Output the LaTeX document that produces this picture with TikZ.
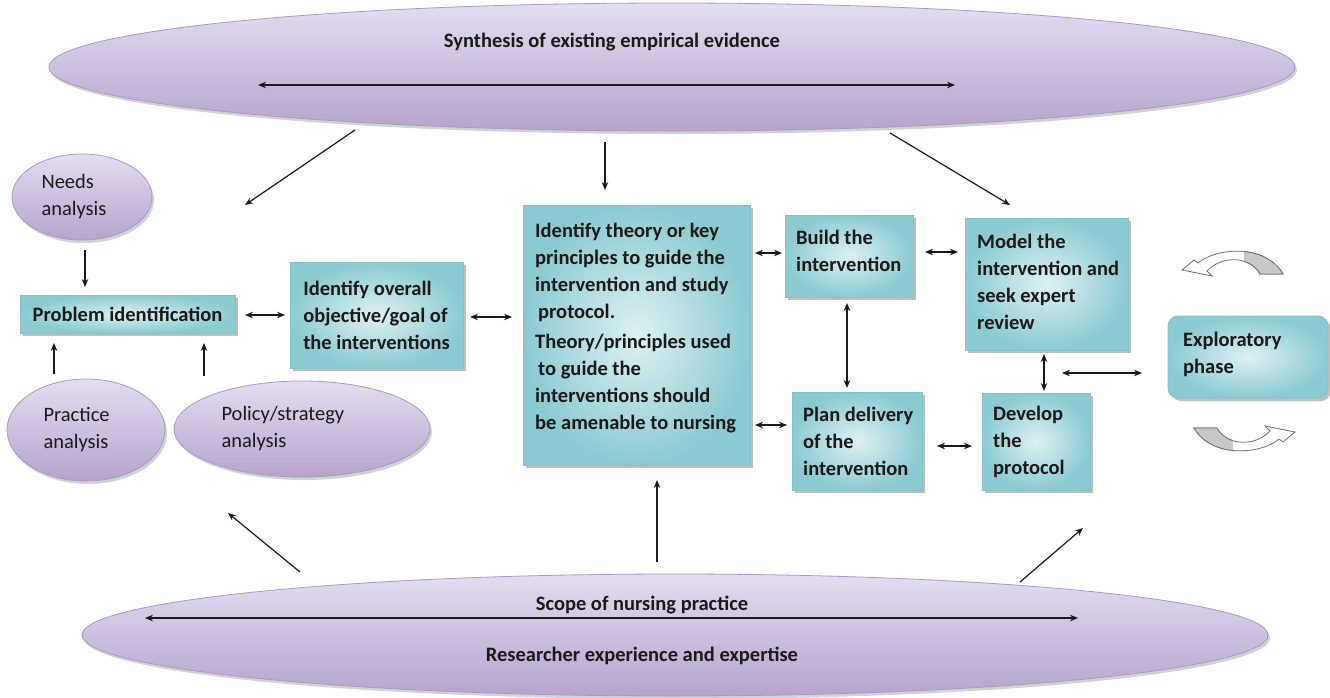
\documentclass[tikz,border=0pt]{standalone}
\usepackage{fontspec}
\setmainfont{Carlito}
\usetikzlibrary{arrows.meta,shapes.geometric,shadows,calc}

\definecolor{inkc}{HTML}{1A1A1A}
\definecolor{tealedge}{HTML}{84C2C9}
\definecolor{tealdark}{HTML}{8CCAD1}
\definecolor{teallight}{HTML}{DDF1F3}
\definecolor{lavedge}{HTML}{A898C4}
\definecolor{lavdark}{HTML}{B6A3CE}
\definecolor{lavlight}{HTML}{E4DDEF}
\definecolor{shadowc}{HTML}{9FA8AA}
\definecolor{bandgray}{HTML}{C8C8C8}
\definecolor{bandedge}{HTML}{707070}

\tikzset{
  boxtext/.style={font=\bfseries\fontsize{20.5}{27}\selectfont, text=inkc},
  tealbox/.style={boxtext, draw=tealedge, line width=0.8pt,
    inner color=teallight, outer color=tealdark,
    drop shadow={shadow xshift=3pt, shadow yshift=-3pt, fill=shadowc, opacity=0.7},
    align=left, inner sep=0pt},
  lavell/.style={ellipse, draw=lavedge, line width=0.8pt,
    top color=lavlight, bottom color=lavdark,
    drop shadow={shadow xshift=2pt, shadow yshift=-3pt, fill=shadowc, opacity=0.5},
    inner sep=0pt},
  elltext/.style={font=\fontsize{20.5}{27}\selectfont, text=inkc, align=left},
  bigtext/.style={font=\bfseries\fontsize{20.5}{25}\selectfont, text=inkc},
  arr/.style={-{Stealth[length=8pt,width=6.5pt]}, line width=1.2pt, inkc},
  darr/.style={{Stealth[length=8pt,width=6.5pt]}-{Stealth[length=8pt,width=6.5pt]}, line width=1.2pt, inkc},
  pics/bentarrow/.style={code={
    % white front of the curved band with its head
    \filldraw[fill=white, draw=bandedge, line width=0.8pt]
      (-34,-2) .. controls (-17,-17) and (33,-22) .. (51,9) -- (28,9)
      .. controls (18,-9) and (-10,-10) .. (-25,6)
      -- (-20,11) -- (-50,5) -- (-38,-5) -- cycle;
    % grey underside near the tail
    \begin{scope}
      \clip (12,-40) rectangle (60,20);
      \filldraw[fill=bandgray, draw=bandedge, line width=0.8pt]
        (-34,-2) .. controls (-17,-17) and (33,-22) .. (51,9) -- (28,9)
        .. controls (18,-9) and (-10,-10) .. (-25,6) -- cycle;
    \end{scope}
  }}
}

\begin{document}
\begin{tikzpicture}[x=1pt, y=-1pt]
\useasboundingbox (0,0) rectangle (1330,697);
\fill[white] (0,0) rectangle (1330,697);

% large ellipses: evidence at the top, practice and expertise at the bottom
\node[lavell, minimum width=1246, minimum height=128] (synth) at (672,67) {};
\node[bigtext] (synthtext) at (612,42) {Synthesis of existing empirical evidence};
\coordinate (synthL) at (258,85);
\coordinate (synthR) at (955,85);
\draw[darr] (synthL) -- (synthR);

\node[lavell, minimum width=1186, minimum height=122] (scope) at (675,635) {};
\node[bigtext] (scopetext) at (642,605) {Scope of nursing practice};
\node[bigtext] (researcher) at (642,656) {Researcher experience and expertise};
\coordinate (scopeL) at (145,618);
\coordinate (scopeR) at (1078,618);
\draw[darr] (scopeL) -- (scopeR);

% small analysis ellipses
\node[lavell, minimum width=140, minimum height=86] (needs) at (82,197) {};
\node[elltext, anchor=west] (needstext) at (38,197) {Needs\\analysis};
\node[lavell, minimum width=158, minimum height=102] (practice) at (86,430) {};
\node[elltext, anchor=west] (practicetext) at (40,430) {Practice\\analysis};
\node[lavell, minimum width=256, minimum height=96] (policy) at (302,429) {};
\node[elltext, anchor=west] (policytext) at (218,429) {Policy/strategy\\analysis};

% process boxes
\node[tealbox, minimum width=215, minimum height=38, align=center] (prob) at (127.5,314) {Problem identification};
\node[tealbox, minimum width=173, minimum height=106] (overall) at (376.5,315)
  {Identify overall\\objective/goal of\\the interventions};
\node[tealbox, minimum width=227, minimum height=260] (theory) at (636.5,335) {};
\node[boxtext, align=left, anchor=west, inner sep=0pt] (theorytext) at (535,328)
  {Identify theory or key\\principles to guide the\\intervention and study\\\hspace*{3pt}protocol.\\[3pt]
   Theory/principles used\\\hspace*{3pt}to guide the\\interventions should\\be amenable to nursing};
\node[tealbox, minimum width=128, minimum height=82] (build) at (849,256) {};
\node[boxtext, align=left, anchor=west, inner sep=0pt] (buildtext) at (796,251)
  {Build the\\intervention};
\node[tealbox, minimum width=130, minimum height=98] (plan) at (857,441) {};
\node[boxtext, align=left, anchor=west, inner sep=0pt] (plantext) at (803,441)
  {Plan delivery\\of the\\intervention};
\node[tealbox, minimum width=163, minimum height=132] (model) at (1046.5,284) {};
\node[boxtext, align=left, anchor=west, inner sep=0pt] (modeltext) at (977,282)
  {Model the\\intervention and\\seek expert\\review};
\node[tealbox, minimum width=108, minimum height=97] (develop) at (1036,441.5) {};
\node[boxtext, align=left, anchor=west, inner sep=0pt] (developtext) at (993,441.5)
  {Develop\\the\\protocol};
\node[tealbox, rounded corners=10pt, minimum width=160, minimum height=82] (explor) at (1248,357) {};
\node[boxtext, align=left, anchor=west, inner sep=0pt] (explortext) at (1183,354)
  {Exploratory\\phase};

% arrows leaving the evidence ellipse
\coordinate (t1s) at (355,130); \coordinate (t1e) at (245,205);
\coordinate (t2s) at (605,142); \coordinate (t2e) at (605,190);
\coordinate (t3s) at (890,133); \coordinate (t3e) at (1010,205);
\draw[arr] (t1s) -- (t1e);
\draw[arr] (t2s) -- (t2e);
\draw[arr] (t3s) -- (t3e);

% feeding problem identification
\coordinate (n1) at (85,250); \coordinate (n2) at (85,287);
\draw[arr] (n1) -- (n2);
\coordinate (p1) at (54,374); \coordinate (p2) at (54,343);
\draw[arr] (p1) -- (p2);
\coordinate (q1) at (204,376); \coordinate (q2) at (204,343);
\draw[arr] (q1) -- (q2);

% links between the boxes
\coordinate (a1) at (245,315); \coordinate (a2) at (285,315);
\draw[darr] (a1) -- (a2);
\coordinate (b1) at (470,317); \coordinate (b2) at (512,317);
\draw[darr] (b1) -- (b2);
\coordinate (c1) at (755,253); \coordinate (c2) at (782,253);
\draw[darr] (c1) -- (c2);
\coordinate (d1) at (755,425); \coordinate (d2) at (787,425);
\draw[darr] (d1) -- (d2);
\coordinate (e1) at (847,303); \coordinate (e2) at (847,388);
\draw[darr] (e1) -- (e2);
\coordinate (f1) at (925,252); \coordinate (f2) at (958,252);
\draw[darr] (f1) -- (f2);
\coordinate (g1) at (1044,354); \coordinate (g2) at (1044,391);
\draw[darr] (g1) -- (g2);
\coordinate (h1) at (937,446); \coordinate (h2) at (972,446);
\draw[darr] (h1) -- (h2);
\coordinate (k1) at (1062,373); \coordinate (k2) at (1142,373);
\draw[darr] (k1) -- (k2);

% arrows rising from the practice ellipse
\coordinate (u1s) at (300,572); \coordinate (u1e) at (228,513);
\coordinate (u2s) at (657,562); \coordinate (u2e) at (657,480);
\coordinate (u3s) at (1020,582); \coordinate (u3e) at (1083,528);
\draw[arr] (u1s) -- (u1e);
\draw[arr] (u2s) -- (u2e);
\draw[arr] (u3s) -- (u3e);

% curved cycle arrows beside the exploratory phase
\pic at (1232,265) {bentarrow};
\pic[rotate=180] at (1245,437) {bentarrow};
\end{tikzpicture}
\end{document}
